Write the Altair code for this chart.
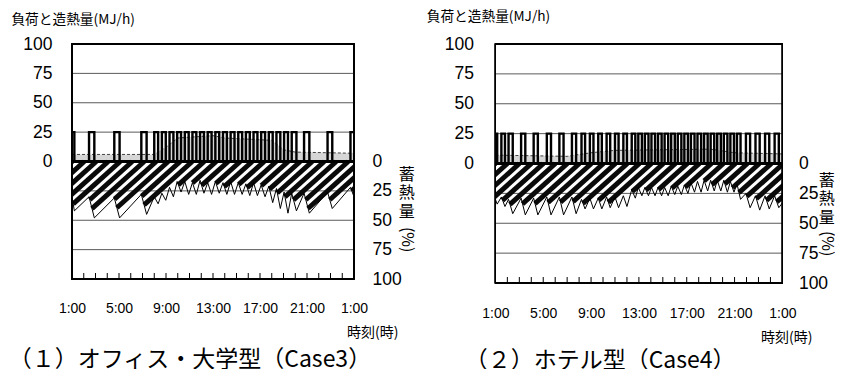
import altair as alt
import pandas as pd
import numpy as np

# ---------------- data ----------------
# time axis: hours after 1:00 (0 = 1:00, 24 = 1:00 next day)
hours = list(range(0, 25))

# Panel 1 (office / university, Case3): heat-production pulses (MJ/h)
p1_on = [-0.2, 1.45, 3.6, 5.9, 7.0, 7.65, 8.3, 8.95, 9.6, 10.25, 10.9, 11.55, 12.2,
         12.85, 13.5, 14.15, 14.8, 15.45, 16.1, 16.75, 17.4, 18.05, 18.7, 19.75, 21.75, 23.7]
p1_off = [0.2, 1.9, 4.05, 6.35, 7.33, 7.98, 8.63, 9.28, 9.93, 10.58, 11.23, 11.88, 12.53,
          13.18, 13.83, 14.48, 15.13, 15.78, 16.43, 17.08, 17.73, 18.38, 19.1, 20.2, 22.15, 24.2]
p1_level = 25
# storage (%) vertices
p1_st_t = [0, 0.2, 1.45, 1.9, 3.6, 4.05, 5.9, 6.35, 7.0, 7.33, 7.65, 7.98, 8.3, 8.63,
           8.95, 9.28, 9.6, 9.93, 10.25, 10.58, 10.9, 11.23, 11.55, 11.88, 12.2, 12.53,
           12.85, 13.18, 13.5, 13.83, 14.15, 14.48, 14.8, 15.13, 15.45, 15.78, 16.1, 16.43,
           16.75, 17.08, 17.4, 17.73, 18.05, 18.38, 18.7, 19.1, 19.75, 20.2, 21.75, 22.15,
           23.7, 24.0]
p1_st_v = [30, 42, 30, 48, 31, 48, 28, 45, 30, 36, 27, 33, 22, 30,
           17, 26, 17, 28, 18, 28, 16, 27, 18, 28, 17, 27,
           18, 28, 17, 28, 18, 28, 19, 29, 18, 29, 20, 30,
           21, 35, 23, 40, 26, 44, 27, 42, 27, 44, 26, 40,
           22, 30]
# load (MJ/h)
p1_ld_t = [0, 7, 8, 9, 12, 13, 17, 18, 19, 24]
p1_ld_v = [6, 6, 12, 20, 22, 20, 18, 10, 8, 7]

# Panel 2 (hotel, Case4)
p2_on = [-0.2, 0.5, 1.1, 2.15, 3.2, 4.3, 5.35, 6.4, 7.2, 7.9, 8.6, 9.3, 10.0, 10.7,
         11.4, 11.95, 12.5, 13.05, 13.6, 14.15, 14.7, 15.25, 15.8, 16.35, 16.9, 17.45,
         18.0, 18.55, 19.1, 19.65, 20.2, 20.95, 21.75, 22.55, 23.35]
p2_off = [0.15, 0.8, 1.45, 2.5, 3.55, 4.65, 5.7, 6.75, 7.5, 8.2, 8.9, 9.6, 10.3, 11.0,
          11.7, 12.25, 12.8, 13.35, 13.9, 14.45, 15.0, 15.55, 16.1, 16.65, 17.2, 17.75,
          18.3, 18.85, 19.4, 19.95, 20.5, 21.3, 22.1, 22.9, 23.7]
p2_level = 25
p2_st_t = [0, 0.15, 0.5, 0.8, 1.1, 1.45, 2.15, 2.5, 3.2, 3.55, 4.3, 4.65, 5.35, 5.7,
           6.4, 6.75, 7.2, 7.5, 7.9, 8.2, 8.6, 8.9, 9.3, 9.6, 10.0, 10.3, 10.7, 11.0,
           11.4, 11.7, 11.95, 12.25, 12.5, 12.8, 13.05, 13.35, 13.6, 13.9, 14.15, 14.45,
           14.7, 15.0, 15.25, 15.55, 15.8, 16.1, 16.35, 16.65, 16.9, 17.2, 17.45, 17.75,
           18.0, 18.3, 18.55, 18.85, 19.1, 19.4, 19.65, 19.95, 20.2, 20.5, 20.95, 21.3,
           21.75, 22.1, 22.55, 22.9, 23.35, 23.7, 24.0]
p2_st_v = [30, 34, 28, 36, 30, 42, 29, 43, 29, 43, 28, 43, 28, 43,
           28, 42, 30, 38, 29, 38, 29, 38, 28, 37, 28, 37, 27, 36,
           22, 29, 20, 27, 20, 27, 20, 27, 20, 27, 20, 27,
           19, 26, 19, 26, 18, 25, 16, 24, 15, 24, 14, 23,
           14, 23, 14, 23, 14, 24, 15, 24, 17, 30, 25, 37,
           27, 39, 27, 38, 27, 37, 33]
p2_ld_t = [0, 6, 8, 10, 18, 20, 24]
p2_ld_v = [7, 6, 9, 11, 12, 9, 8]


# ---------------- helpers ----------------
def step_frame(on, off, level):
    pts = []
    if on[0] > 0:
        pts.append((0.0, 0.0))
    for a, b in zip(on, off):
        a2 = max(a, 0.0)
        if a > 0:
            pts.append((a2, 0.0))
        pts.append((a2, level))
        if b >= 24:
            pts.append((24.0, level))
        else:
            pts.append((b, level))
            pts.append((b, 0.0))
    if off[-1] < 24:
        pts.append((24.0, 0.0))
    return pd.DataFrame({"t": [p[0] for p in pts], "v": [p[1] for p in pts],
                         "i": list(range(len(pts)))})


def stripes_frame(st_t, st_v, W, H):
    px_h = W / 24.0
    px_p = H / 200.0
    slope = 0.9                       # dy/dx of hatch lines in pixels
    hpp = (px_p / slope) / px_h       # hours moved per % of depth
    period = 12.0 / px_h              # hatch spacing (hours)
    rows = []
    d = np.arange(0, 70, 0.05)
    for t0 in np.arange(-1.0, 24 + 70 * hpp, period):
        tt = t0 - d * hpp
        s = np.interp(tt, st_t, st_v)
        hit = np.nonzero(d >= s)[0]
        de = d[hit[0]] if len(hit) else d[-1]
        rows.append({"x": t0, "y": 0.0, "x2": t0 - de * hpp, "y2": -de})
    return pd.DataFrame(rows)


FONT_NUM = "Liberation Sans"
FONT_JP = "Noto Sans CJK JP"


def panel(on, off, level, st_t, st_v, ld_t, ld_v, W, H, pos, caption):
    xs = alt.Scale(domain=[0, 24], nice=False, zero=False)
    ys = alt.Scale(domain=[-100, 100], nice=False, zero=False)

    step = step_frame(on, off, level)
    store = pd.DataFrame({"t": st_t, "v": [-v for v in st_v]})
    load = pd.DataFrame({"t": ld_t, "v": ld_v})
    grid = pd.DataFrame({"g": [-75, -50, -25, 25, 50, 75]})
    ticks = pd.DataFrame({"h": hours[1:-1]})
    stripes = stripes_frame(st_t, st_v, W, H)

    load_area = alt.Chart(load).mark_area(color="#c8c8c8", opacity=0.75).encode(
        x=alt.X("t:Q", scale=xs, axis=None),
        y=alt.Y("v:Q", scale=ys, axis=None),
        y2=alt.datum(0))

    grid_l = alt.Chart(grid).mark_rule(color="#5a5a5a", strokeWidth=1).encode(
        y=alt.Y("g:Q", scale=ys, axis=None))

    hatch = alt.Chart(stripes).mark_rule(color="#0a0a0a", strokeWidth=5, strokeCap="butt",
                                         clip=True).encode(
        x=alt.X("x:Q", scale=xs, axis=None), y=alt.Y("y:Q", scale=ys, axis=None),
        x2="x2:Q", y2="y2:Q")

    store_l = alt.Chart(store).mark_line(color="#000", strokeWidth=1).encode(
        x=alt.X("t:Q", scale=xs, axis=None),
        y=alt.Y("v:Q", scale=ys,
                axis=alt.Axis(orient="right", values=[0, -25, -50, -75, -100],
                              labelExpr="abs(datum.value)", title=None, grid=False,
                              ticks=False, tickSize=0, domain=False, labelFont=FONT_NUM,
                              labelFontSize=17.5, labelColor="#000",
                              labelPadding=pos["rpad"])))

    load_l = alt.Chart(load).mark_line(color="#444", strokeWidth=1,
                                       strokeDash=[3, 2]).encode(
        x=alt.X("t:Q", scale=xs, axis=None), y=alt.Y("v:Q", scale=ys, axis=None))

    zero_l = alt.Chart(load).mark_rule(color="#000", strokeWidth=3).encode(
        y=alt.Y(datum=0, scale=ys, axis=None))

    pulse = alt.Chart(step).mark_line(color="#000", strokeWidth=2.4, clip=True).encode(
        x=alt.X("t:Q", scale=xs,
                axis=alt.Axis(values=hours, labelExpr=
                              "datum.value % 4 == 0 ? ((datum.value + 1) % 24) + ':00' : ''",
                              title=None, grid=False, ticks=False, tickSize=0,
                              domain=False, labelFont=FONT_NUM, labelFontSize=14,
                              labelColor="#000", labelPadding=pos["xpad"],
                              labelFlush=False, labelOverlap=False)),
        y=alt.Y("v:Q", scale=ys,
                axis=alt.Axis(orient="left", values=[0, 25, 50, 75, 100], title=None,
                              grid=False, ticks=False, tickSize=0, domain=False,
                              labelFont=FONT_NUM, labelFontSize=17.5, labelColor="#000",
                              labelPadding=pos["lpad"])),
        order="i:Q")

    tick_l = alt.Chart(ticks).mark_rule(color="#000", strokeWidth=1).encode(
        x=alt.X("h:Q", scale=xs, axis=None),
        y=alt.value(H), y2=alt.value(H - 6))

    frame = alt.Chart(load).mark_rect(fill=None, stroke="#000", strokeWidth=1.2).encode(
        x=alt.value(0), x2=alt.value(W), y=alt.value(0), y2=alt.value(H))

    def txt(s, x, y, size, **kw):
        return alt.Chart(pd.DataFrame({"s": [s]})).mark_text(
            font=FONT_JP, fontSize=size, color="#000", **kw).encode(
            x=alt.value(x), y=alt.value(y), text="s:N")

    t_title = txt("負荷と造熱量(MJ/h)", pos["title"][0], pos["title"][1], 13.7,
                  align="left", baseline="middle")
    t_r1 = txt("蓄\n熱\n量", pos["rt"][0], pos["rt"][1], 16, align="center",
               baseline="middle", lineBreak="\n", lineHeight=18.5)
    t_r2 = txt("(%)", pos["rt2"][0], pos["rt2"][1], 16, align="center",
               baseline="middle", angle=90)
    t_x = txt("時刻(時)", pos["xt"][0], pos["xt"][1], 14, align="center",
              baseline="middle")
    t_cap = txt(caption, pos["cap"][0], pos["cap"][1], 23, align="left",
                baseline="middle")

    return alt.layer(load_area, grid_l, hatch, store_l, load_l, zero_l, pulse, tick_l,
                     frame, t_title, t_r1, t_r2, t_x, t_cap).resolve_axis(
        x="independent", y="independent").properties(width=W, height=H)


W1, H1 = 282, 235
W2, H2 = 287, 239

pos1 = {"title": (-60.6, -24.3), "rt": (334.7, 130.7), "rt2": (334.7, 195.7),
        "xt": (300.7, 288.7), "cap": (-63.3, 316.4), "rpad": 18, "lpad": 20, "xpad": 22}
pos2 = {"title": (-68.7, -27.3), "rt": (331.3, 136.7), "rt2": (331.3, 199.7),
        "xt": (291.3, 294.2), "cap": (-30.7, 317.4), "rpad": 16, "lpad": 22, "xpad": 23}

c1 = panel(p1_on, p1_off, p1_level, p1_st_t, p1_st_v, p1_ld_t, p1_ld_v, W1, H1, pos1,
           "（１）オフィス・大学型（Case3）")
c2 = panel(p2_on, p2_off, p2_level, p2_st_t, p2_st_v, p2_ld_t, p2_ld_v, W2, H2, pos2,
           "（２）ホテル型（Case4）")

chart = alt.hconcat(c1, c2, spacing=141.4, bounds="flush").properties(
    padding={"left": 0, "top": 1, "right": 0, "bottom": 6}, background="white"
).configure_view(stroke=None)

chart.save("out.html", embed_options={"renderer": "svg", "actions": False})
